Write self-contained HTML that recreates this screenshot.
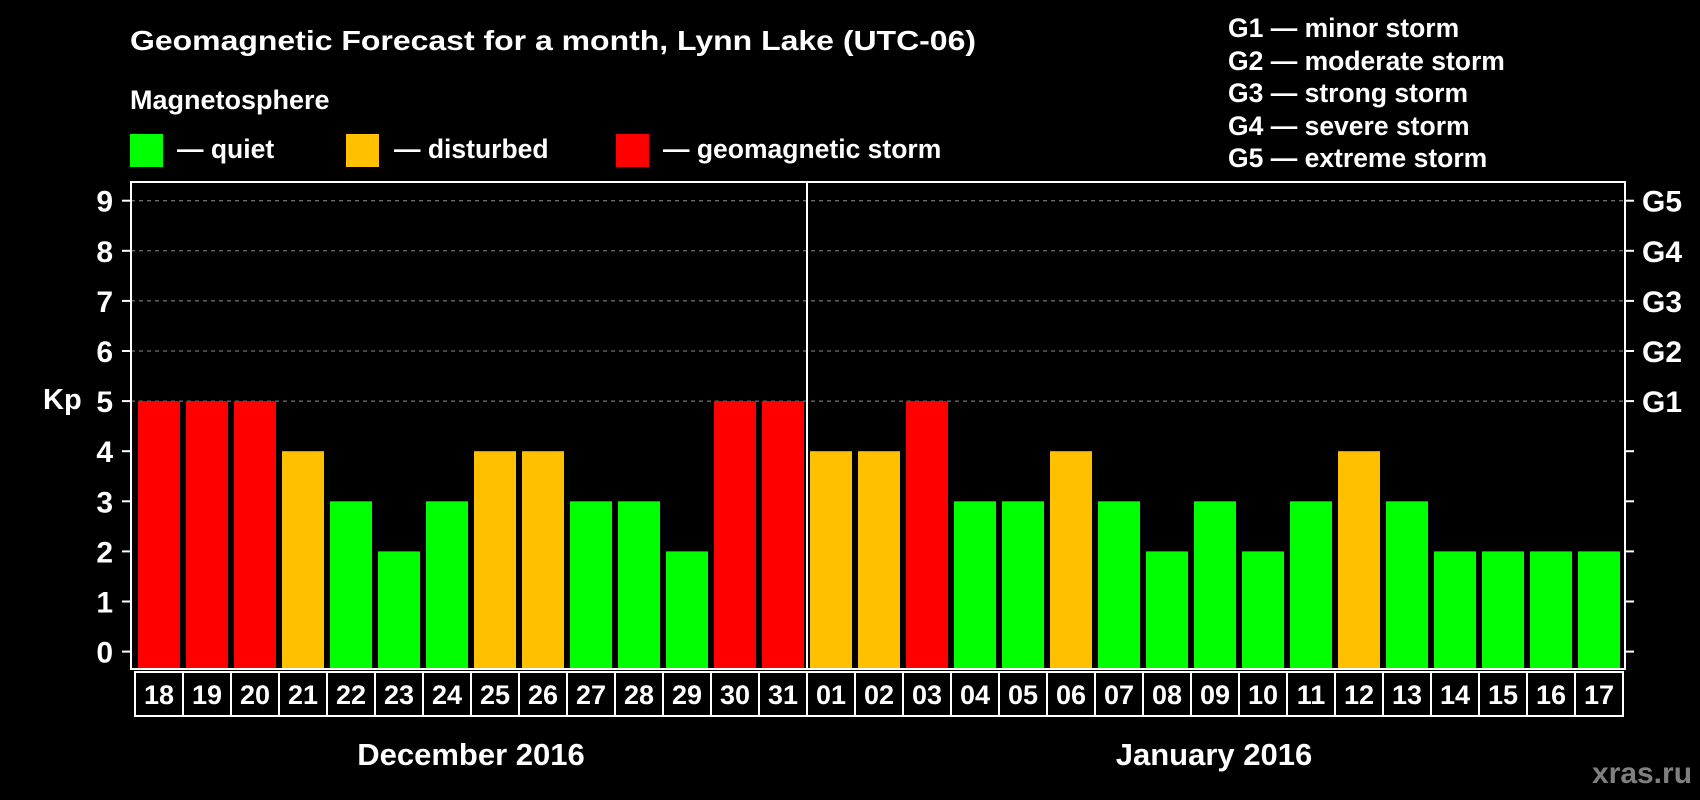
<!DOCTYPE html>
<html><head><meta charset="utf-8"><style>
html,body{margin:0;padding:0;background:#000;}
svg{display:block;font-family:"Liberation Sans",Arial,sans-serif;font-weight:bold;}
</style></head><body>
<svg id="chart" width="1700" height="800" viewBox="0 0 1700 800" xmlns="http://www.w3.org/2000/svg">
<rect width="1700" height="800" fill="#000"/>
<text x="130" y="50" fill="#fff" font-size="28" textLength="846" lengthAdjust="spacingAndGlyphs">Geomagnetic Forecast for a month, Lynn Lake (UTC-06)</text>
<text x="130" y="109" fill="#fff" font-size="27">Magnetosphere</text>
<g><rect x="130" y="134" width="33" height="33" fill="#00ff00"/><text x="177" y="158" fill="#fff" font-size="26.5">— quiet</text></g>
<g><rect x="346" y="134" width="33" height="33" fill="#ffc000"/><text x="394" y="158" fill="#fff" font-size="26.5">— disturbed</text></g>
<g><rect x="616" y="134" width="33" height="33" fill="#ff0000"/><text x="663" y="158" fill="#fff" font-size="26.5">— geomagnetic storm</text></g>
<g fill="#fff" font-size="26.5">
<text x="1228" y="37">G1 — minor storm</text>
<text x="1228" y="70">G2 — moderate storm</text>
<text x="1228" y="102">G3 — strong storm</text>
<text x="1228" y="135">G4 — severe storm</text>
<text x="1228" y="167">G5 — extreme storm</text>
</g>
<text x="43" y="409" fill="#fff" font-size="29">Kp</text>
<g id="grid"></g>
<g id="bars"></g>
<g id="axes"></g>
<text x="471" y="765" fill="#fff" font-size="31" text-anchor="middle">December 2016</text>
<text x="1214" y="765" fill="#fff" font-size="31" text-anchor="middle">January 2016</text>
<text x="1642" y="783" fill="#808080" font-size="30" text-anchor="middle">xras.ru</text>
</svg>
<script>
const days = ["18","19","20","21","22","23","24","25","26","27","28","29","30","31","01","02","03","04","05","06","07","08","09","10","11","12","13","14","15","16","17"];
const kpValues = [5,5,5,4,3,2,3,4,4,3,3,2,5,5,4,4,5,3,3,4,3,2,3,2,3,4,3,2,2,2,2];
const yTicks = [0,1,2,3,4,5,6,7,8,9];
const gLabels = ["","","","","","G1","G2","G3","G4","G5"];
const NS="http://www.w3.org/2000/svg";
const L=131,R=1625,T=182,B=669,Y0=651.6,UNIT=50.1,X0=138,STEP=48,BW=42;
function y(v){return Y0-v*UNIT;}
function x(i){return X0+i*STEP;}
function mk(t,a,p){const e=document.createElementNS(NS,t);for(const k in a)e.setAttribute(k,a[k]);p.appendChild(e);return e;}
const grid=document.getElementById('grid'),bars=document.getElementById('bars'),axes=document.getElementById('axes');
yTicks.forEach((v,i)=>{
  if(v>=5){const g=mk('line',{x1:L,x2:R,y1:y(v),y2:y(v),stroke:'#909090','stroke-width':1,'stroke-dasharray':'4,4'},grid);
  
  }
  const t1=mk('line',{x1:L-9,x2:L,y1:y(v),y2:y(v),stroke:'#fff','stroke-width':2},axes);
  
  
  const lb=mk('text',{x:113,y:y(v)+11,fill:'#fff','font-size':30,'text-anchor':'end'},axes);lb.textContent=v;
  
  
  const t2=mk('line',{x1:R,x2:R+9,y1:y(v),y2:y(v),stroke:'#fff','stroke-width':2},axes);
  
  
  if(gLabels[i]){const g=mk('text',{x:1642,y:y(v)+11,fill:'#fff','font-size':30},axes);g.textContent=gLabels[i];
  
  }
});
kpValues.forEach((v,i)=>{
  const c=v>=5?'#ff0000':(v>=4?'#ffc000':'#00ff00');
  const b=mk('rect',{x:x(i),y:y(v),width:BW,height:B-y(v)-1,fill:c},bars);
  
  
  const bx=mk('rect',{x:x(i)-3,y:B+3,width:STEP,height:44,fill:'none',stroke:'#fff','stroke-width':2},axes);
  
  
  const t=mk('text',{x:x(i)+BW/2,y:B+35,fill:'#fff','font-size':27,'text-anchor':'middle'},axes);t.textContent=days[i];
  
  
});
const frame=mk('rect',{x:L,y:T,width:R-L,height:B-T,fill:'none',stroke:'#fff','stroke-width':2},axes);


const sep=mk('line',{x1:x(14)-3,x2:x(14)-3,y1:T,y2:B,stroke:'#fff','stroke-width':2},axes);


</script>
</body></html>
